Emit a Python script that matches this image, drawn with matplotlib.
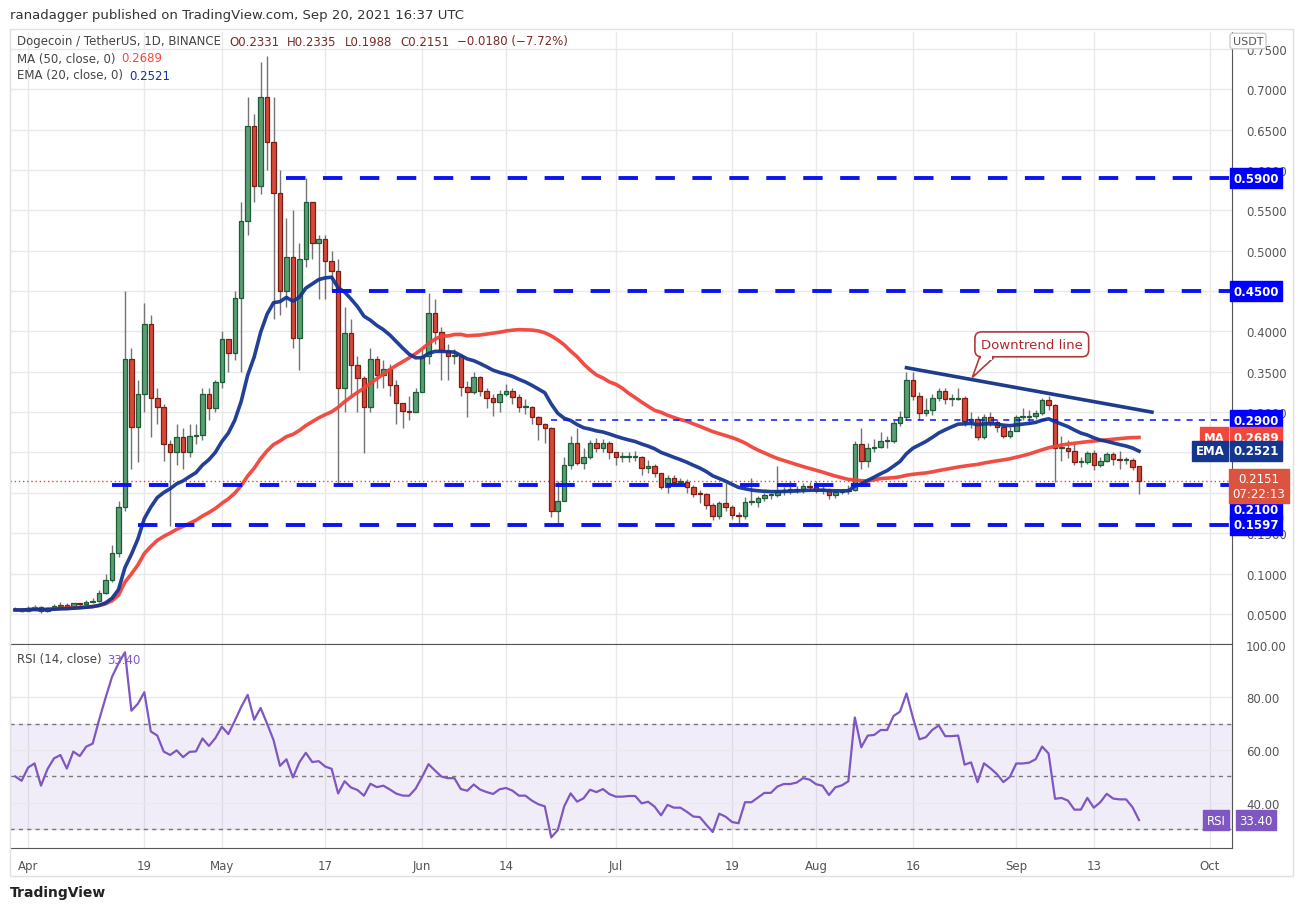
import numpy as np
import pandas as pd
import matplotlib
matplotlib.use("Agg")
import matplotlib.pyplot as plt
from matplotlib.patches import Rectangle, Polygon

# ---------------- data (daily, Mar 30 .. Sep 20 2021) ----------------
close_mar = [0.055, 0.054]
close_apr = [0.057, 0.058, 0.053, 0.057, 0.060, 0.061, 0.058, 0.063, 0.062, 0.065,
             0.066, 0.076, 0.092, 0.125, 0.182, 0.366, 0.281, 0.322, 0.409, 0.317,
             0.306, 0.260, 0.250, 0.269, 0.250, 0.270, 0.272, 0.323, 0.305, 0.337]
close_may = [0.390, 0.373, 0.441, 0.537, 0.654, 0.580, 0.690, 0.635, 0.571, 0.450,
             0.492, 0.392, 0.490, 0.560, 0.509, 0.515, 0.487, 0.475, 0.330, 0.398,
             0.358, 0.342, 0.306, 0.366, 0.346, 0.353, 0.333, 0.311, 0.301, 0.300, 0.325]
close_jun = [0.369, 0.423, 0.399, 0.376, 0.370, 0.370, 0.331, 0.325, 0.343, 0.326,
             0.318, 0.312, 0.323, 0.326, 0.319, 0.306, 0.306, 0.294, 0.285, 0.280,
             0.178, 0.190, 0.234, 0.262, 0.237, 0.244, 0.262, 0.256, 0.262, 0.250]
close_jul = [0.244, 0.244, 0.245, 0.245, 0.231, 0.233, 0.224, 0.207, 0.219, 0.214,
             0.214, 0.207, 0.199, 0.198, 0.185, 0.171, 0.187, 0.182, 0.173, 0.171,
             0.189, 0.189, 0.193, 0.197, 0.197, 0.202, 0.204, 0.204, 0.205, 0.208, 0.207]
close_aug = [0.204, 0.203, 0.197, 0.201, 0.202, 0.204, 0.261, 0.240, 0.256, 0.257,
             0.264, 0.264, 0.286, 0.294, 0.340, 0.320, 0.299, 0.303, 0.317, 0.326,
             0.316, 0.316, 0.317, 0.289, 0.292, 0.269, 0.294, 0.288, 0.281, 0.271, 0.277]
close_sep = [0.294, 0.294, 0.295, 0.299, 0.315, 0.309, 0.255, 0.256, 0.252, 0.238,
             0.238, 0.249, 0.235, 0.240, 0.248, 0.242, 0.241, 0.241, 0.232, 0.2151]

high_mar = [0.058, 0.057]
high_apr = [0.060, 0.061, 0.060, 0.058, 0.062, 0.065, 0.064, 0.064, 0.064, 0.067,
            0.070, 0.080, 0.100, 0.135, 0.190, 0.450, 0.380, 0.340, 0.435, 0.420,
            0.330, 0.310, 0.265, 0.285, 0.280, 0.285, 0.285, 0.330, 0.330, 0.340]
high_may = [0.400, 0.390, 0.450, 0.560, 0.690, 0.670, 0.734, 0.741, 0.690, 0.600,
            0.540, 0.550, 0.510, 0.590, 0.560, 0.520, 0.520, 0.500, 0.490, 0.430,
            0.415, 0.370, 0.345, 0.380, 0.370, 0.365, 0.360, 0.340, 0.310, 0.320, 0.330]
high_jun = [0.380, 0.448, 0.440, 0.405, 0.385, 0.378, 0.372, 0.338, 0.350, 0.345,
            0.330, 0.322, 0.328, 0.335, 0.330, 0.322, 0.316, 0.308, 0.295, 0.287,
            0.282, 0.215, 0.245, 0.270, 0.280, 0.255, 0.265, 0.268, 0.267, 0.264]
high_jul = [0.250, 0.250, 0.250, 0.252, 0.246, 0.241, 0.236, 0.225, 0.222, 0.222,
            0.218, 0.217, 0.210, 0.203, 0.200, 0.188, 0.190, 0.212, 0.185, 0.176,
            0.195, 0.218, 0.196, 0.200, 0.200, 0.233, 0.207, 0.215, 0.209, 0.212, 0.213]
high_aug = [0.215, 0.209, 0.206, 0.204, 0.205, 0.210, 0.264, 0.280, 0.262, 0.267,
            0.275, 0.270, 0.290, 0.302, 0.350, 0.350, 0.325, 0.318, 0.323, 0.330,
            0.330, 0.323, 0.330, 0.320, 0.300, 0.295, 0.298, 0.300, 0.292, 0.285, 0.282]
high_sep = [0.296, 0.305, 0.303, 0.303, 0.318, 0.320, 0.310, 0.270, 0.266, 0.262,
            0.245, 0.252, 0.253, 0.244, 0.250, 0.250, 0.252, 0.245, 0.243, 0.2335]

low_mar = [0.053, 0.052]
low_apr = [0.053, 0.056, 0.051, 0.052, 0.055, 0.058, 0.056, 0.057, 0.060, 0.061,
           0.064, 0.065, 0.075, 0.090, 0.120, 0.178, 0.230, 0.238, 0.300, 0.269,
           0.285, 0.240, 0.159, 0.235, 0.230, 0.245, 0.260, 0.265, 0.290, 0.300]
low_may = [0.330, 0.350, 0.365, 0.350, 0.520, 0.560, 0.570, 0.600, 0.415, 0.420,
           0.430, 0.380, 0.352, 0.480, 0.490, 0.440, 0.440, 0.450, 0.212, 0.300,
           0.320, 0.300, 0.249, 0.300, 0.330, 0.330, 0.320, 0.285, 0.280, 0.290, 0.300]
low_jun = [0.330, 0.360, 0.385, 0.340, 0.340, 0.360, 0.320, 0.294, 0.322, 0.320,
           0.305, 0.295, 0.300, 0.320, 0.310, 0.300, 0.298, 0.285, 0.265, 0.262,
           0.170, 0.160, 0.190, 0.230, 0.235, 0.230, 0.242, 0.250, 0.250, 0.242]
low_jul = [0.235, 0.238, 0.238, 0.240, 0.222, 0.225, 0.220, 0.205, 0.200, 0.210,
           0.208, 0.200, 0.195, 0.188, 0.180, 0.166, 0.168, 0.178, 0.168, 0.162,
           0.168, 0.185, 0.182, 0.190, 0.192, 0.195, 0.197, 0.198, 0.200, 0.200, 0.202]
low_aug = [0.200, 0.198, 0.192, 0.194, 0.198, 0.199, 0.202, 0.230, 0.232, 0.250,
           0.255, 0.256, 0.262, 0.283, 0.290, 0.315, 0.290, 0.295, 0.297, 0.314,
           0.310, 0.308, 0.315, 0.283, 0.280, 0.265, 0.267, 0.283, 0.275, 0.268, 0.268]
low_sep = [0.276, 0.290, 0.285, 0.292, 0.297, 0.303, 0.213, 0.240, 0.243, 0.234,
           0.232, 0.236, 0.228, 0.232, 0.238, 0.235, 0.230, 0.236, 0.228, 0.1988]

first_open = 0.056
last_open = 0.2331
rsi_seed_gain = 0.0012   # average gain/loss carried in from before the window
rsi_seed_loss = 0.0012

# support / resistance levels and start dates
levels = [0.59, 0.45, 0.21, 0.1597]
level_starts = ["2021-05-11", "2021-05-18", "2021-04-14", "2021-04-18"]
thin_level = 0.29
thin_level_start = "2021-06-21"
trend_dates = ["2021-08-15", "2021-09-22"]
trend_prices = [0.355, 0.300]
last_price = 0.2151
ma_value, ema_value, rsi_value = 0.2689, 0.2521, 33.40

tick_dates = ["2021-04-01", "2021-04-19", "2021-05-01", "2021-05-17", "2021-06-01",
              "2021-06-14", "2021-07-01", "2021-07-19", "2021-08-01", "2021-08-16",
              "2021-09-01", "2021-09-13", "2021-10-01"]
tick_labels = ["Apr", "19", "May", "17", "Jun", "14", "Jul", "19", "Aug", "16",
               "Sep", "13", "Oct"]
price_ticks = [0.05, 0.10, 0.15, 0.30, 0.35, 0.40, 0.50, 0.55, 0.60, 0.65, 0.70, 0.75]

# ---------------- derived series ----------------
closes = np.array(close_mar + close_apr + close_may + close_jun + close_jul + close_aug + close_sep)
highs = np.array(high_mar + high_apr + high_may + high_jun + high_jul + high_aug + high_sep)
lows = np.array(low_mar + low_apr + low_may + low_jun + low_jul + low_aug + low_sep)
opens = np.concatenate([[first_open], closes[:-1]])
opens[-1] = last_open
base = pd.Timestamp("2021-04-01")
dates = pd.date_range("2021-03-30", periods=len(closes), freq="D")
x = np.array((dates - base).days, dtype=float)
def dx(s):
    return (pd.Timestamp(s) - base).days

s = pd.Series(closes)
ma50 = s.rolling(50, min_periods=1).mean().values
ema20 = s.ewm(span=20, adjust=False).mean().values
ag, al = rsi_seed_gain, rsi_seed_loss
rsi = []
prev = closes[0]
for i, c in enumerate(closes):
    ch = 0.0 if i == 0 else c - prev
    prev = c
    ag = (ag * 13 + max(ch, 0)) / 14
    al = (al * 13 + max(-ch, 0)) / 14
    rsi.append(100 - 100 / (1 + ag / al))
rsi = np.array(rsi)

# ---------------- figure ----------------
W, H = 1304, 912
fig = plt.figure(figsize=(W/100, H/100), dpi=100)
fig.patch.set_facecolor("white")
def fx(px): return px / W
def fy(py): return 1 - py / H

ax = fig.add_axes([fx(10), fy(645), fx(1232) - fx(10), fy(33) - fy(645)])
ar = fig.add_axes([fx(10), fy(849), fx(1232) - fx(10), fy(645) - fy(849)], sharex=ax)

xlim = (-2.8, 186.4)
ax.set_xlim(*xlim)
ax.set_ylim(0.0127, 0.771)
ar.set_ylim(22.8, 100.3)

grid_c = "#e9e9ec"
tick_x = [dx(t) for t in tick_dates]
for a in (ax, ar):
    for t in tick_x:
        a.axvline(t, color=grid_c, lw=1, zorder=0)
    for sp in ("left", "top"):
        a.spines[sp].set_visible(False)
    a.spines["right"].set_color("#555555")
    a.spines["bottom"].set_color("#555555")
    a.tick_params(length=0)
    a.yaxis.tick_right()
ar.spines["top"].set_visible(True)
ar.spines["top"].set_color("#555555")

for p in np.arange(1, 16) * 0.05:
    ax.axhline(p, color=grid_c, lw=1, zorder=0)
ax.set_yticks(price_ticks)
ax.set_yticklabels([f"{p:.4f}" for p in price_ticks], fontsize=8.5, color="#555555")
ax.tick_params(axis="y", pad=10)
plt.setp(ax.get_xticklabels(), visible=False)

# candles
up_fill, up_edge = "#5b9e74", "#1b5e35"
dn_fill, dn_edge = "#d6493a", "#7d1d12"
for xi, o, h, l, c in zip(x, opens, highs, lows, closes):
    ax.vlines(xi, l, h, color="#737375", lw=1, zorder=2)
    g = c >= o
    bot, top = min(o, c), max(o, c)
    ax.add_patch(Rectangle((xi - 0.35, bot), 0.7, max(top - bot, 0.0012),
                           facecolor=up_fill if g else dn_fill,
                           edgecolor=up_edge if g else dn_edge, lw=0.9, zorder=3))

ax.plot(x, ma50, color="#f0443a", lw=2.6, zorder=4, alpha=0.95)
ax.plot(x, ema20, color="#16358f", lw=2.6, zorder=4, alpha=0.95)

# levels
for lv, st in zip(levels, level_starts):
    ax.plot([dx(st), xlim[1]], [lv, lv], color="#0a14f0", lw=2.8,
            dashes=(5, 4.5), zorder=5)
ax.plot([dx(thin_level_start), xlim[1]], [thin_level, thin_level], color="#0a14f0",
        lw=1.1, dashes=(4, 4), zorder=5)
ax.axhline(last_price, color="#e0483a", lw=1, ls=(0, (1, 2)), zorder=1)

# downtrend line and callout
ax.plot([dx(trend_dates[0]), dx(trend_dates[1])], trend_prices, color="#1d3c8c", lw=2.6, zorder=6)
ax.add_patch(Polygon([[147.3, 0.3675], [149.5, 0.3675], [146.2, 0.343]], closed=True,
                     facecolor="white", edgecolor="#b03a3a", lw=1.2, zorder=7))
ax.text(155.4, 0.384, "Downtrend line", fontsize=9.5, color="#b0282d", ha="center",
        va="center", zorder=8,
        bbox=dict(boxstyle="round,pad=0.45,rounding_size=0.5", fc="white", ec="#b03a3a", lw=1.2))
ax.add_patch(Rectangle((147.6, 0.364), 1.7, 0.006, fc="white", ec="none", zorder=9))

# right price boxes (label y in pixels where the scale stacks them)
def pbox(axis, y, txt, fc, xpx=1256, color="white", fs=8.5, bold=True, ypx=None):
    if ypx is None:
        xy, coords = (xpx, y), ("figure pixels", "data")
    else:
        xy, coords = (xpx, H - ypx), "figure pixels"
    axis.annotate(txt, xy=xy, xycoords=coords, ha="center",
                  va="center", fontsize=fs, color=color, fontweight="bold" if bold else "normal",
                  annotation_clip=False, zorder=20,
                  bbox=dict(boxstyle="square,pad=0.28", fc=fc, ec=fc))
for lv in [0.59, 0.45, 0.29]:
    pbox(ax, lv, f"{lv:.4f}", "#0000ff")
pbox(ax, 0.21, "0.2100", "#0000ff", ypx=511)
pbox(ax, 0.1597, "0.1597", "#0000ff", ypx=526)
pbox(ax, ma_value, f"{ma_value:.4f}", "#f2473c")
pbox(ax, ema_value, f"{ema_value:.4f}", "#15368f")
pbox(ax, ma_value, "MA", "#f2473c", xpx=1214)
pbox(ax, ema_value, "EMA", "#15368f", xpx=1210)
pbox(ax, last_price, f"{last_price:.4f}\n07:22:13", "#db5440", xpx=1259, bold=False, ypx=487)
fig.text(fx(1248), fy(42), "USDT", fontsize=8, color="#555555", ha="center", va="center",
         bbox=dict(boxstyle="round,pad=0.25", fc="white", ec="#cccccc"))

# RSI pane
ar.axhspan(30, 70, color="#7e57c2", alpha=0.1, zorder=0)
for v in (40, 60, 80):
    ar.axhline(v, color=grid_c, lw=1, zorder=0)
for v in (30, 50, 70):
    ar.axhline(v, color="#787878", lw=1, ls=(0, (3, 3)), zorder=1)
ar.plot(x, rsi, color="#7e57c2", lw=1.6, zorder=3)
ar.set_yticks([40, 60, 80, 100])
ar.set_yticklabels(["40.00", "60.00", "80.00", "100.00"], fontsize=8.5, color="#555555")
ar.tick_params(axis="y", pad=10)
pbox(ar, rsi_value, f"{rsi_value:.2f}", "#7e57c2", bold=False)
pbox(ar, rsi_value, "RSI", "#7e57c2", xpx=1216, bold=False)
ar.set_xticks(tick_x)
ar.set_xticklabels(tick_labels, fontsize=8.5, color="#555555")
ar.tick_params(axis="x", pad=8)

# header texts placed sequentially using measured widths
renderer = fig.canvas.get_renderer()
def text_row(parts, x0, ypx, fs=9):
    xp = x0
    for txt, col, gap in parts:
        t = fig.text(fx(xp), fy(ypx), txt, fontsize=fs, color=col, va="center")
        w = t.get_window_extent(renderer).width
        xp += w + gap

fig.text(fx(10), fy(15), "ranadagger published on TradingView.com, Sep 20, 2021 16:37 UTC",
         fontsize=9.5, color="#333333", va="center")
text_row([("Dogecoin / TetherUS, 1D, BINANCE", "#444444", 8),
          ("O0.2331", "#7a2a22", 8), ("H0.2335", "#7a2a22", 8),
          ("L0.1988", "#7a2a22", 8), ("C0.2151", "#7a2a22", 8),
          ("\u22120.0180 (\u22127.72%)", "#7a2a22", 0)], 17, 42, fs=8.5)
text_row([("MA (50, close, 0)", "#444444", 6), ("0.2689", "#f2473c", 0)], 17, 59, fs=8.5)
text_row([("EMA (20, close, 0)", "#444444", 6), ("0.2521", "#15368f", 0)], 17, 76, fs=8.5)
text_row([("RSI (14, close)", "#444444", 6), ("33.40", "#7e57c2", 0)], 17, 660, fs=8.5)
fig.text(fx(10), fy(893), "TradingView", fontsize=10, color="#222222", va="center", fontweight="bold")

# outer frame
fig.add_artist(Rectangle((fx(10), fy(877)), fx(1293) - fx(10), fy(30) - fy(877),
                         transform=fig.transFigure, fill=False, ec="#e0e0e0", lw=1))

fig.savefig("out.png", dpi=100)
